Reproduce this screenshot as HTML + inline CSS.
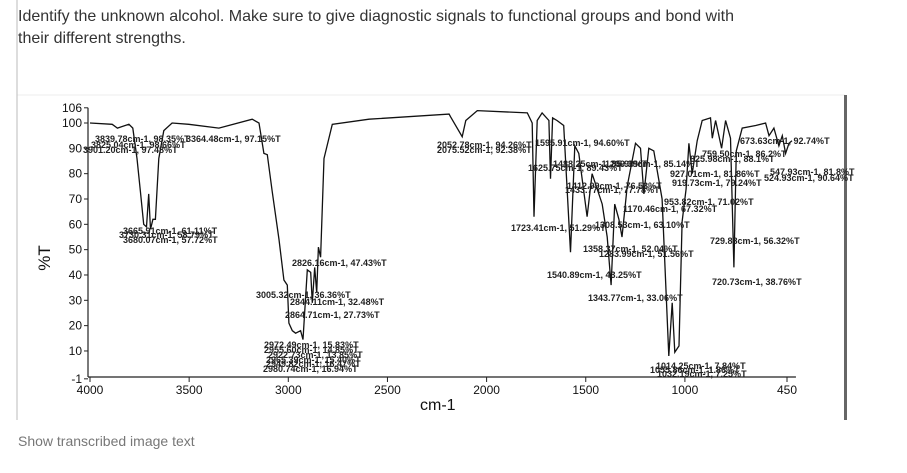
<!DOCTYPE html>
<html><head><meta charset="utf-8"><style>
body{margin:0;width:907px;height:473px;background:#fff;overflow:hidden;font-family:"Liberation Sans",Arial,sans-serif;}
.q{position:absolute;left:18px;color:#333;font-size:16px;line-height:22px;}
</style></head><body>
<div class="q" style="top:6px">Identify the unknown alcohol. Make sure to give diagnostic signals to functional groups and bond with<br>their different strengths.</div>
<div class="q" style="top:430px;font-size:14px;color:#777">Show transcribed image text</div>
<svg id="chart" width="907" height="473" style="position:absolute;left:0;top:0">
<line x1="17" y1="95" x2="845" y2="95" stroke="#eee"/>
<line x1="17" y1="0" x2="17" y2="420" stroke="#bbb"/>
<rect x="844" y="95" width="3" height="325" fill="#666"/>
<g id="axes"></g><g id="series"></g><g id="labels" font-size="9" font-weight="bold" fill="#222"></g>
<text x="420" y="410" font-size="16" fill="#111">cm-1</text>
<text transform="translate(50,258) rotate(-90)" font-size="17" text-anchor="middle" fill="#111">%T</text>
</svg>
<script>
const xTicks=[4000,3500,3000,2500,2000,1500,1000,450];
const yTicks=[106,100,90,80,70,60,50,40,30,20,10,-1];
const wavenumbers=[4000,3888,3862,3804,3784,3763,3746,3729,3715,3704,3695,3683,3670,3653,3628,3586,3502,3350,3182,3148,3123,3106,3081,3047,3022,3005,2997,2980,2963,2938,2926,2904,2887,2879,2867,2857,2848,2837,2820,2778,2593,2189,2182,2123,2105,2047,1795,1770,1761,1745,1720,1686,1678,1667,1645,1611,1577,1555,1535,1493,1468,1417,1392,1372,1354,1333,1317,1291,1249,1224,1207,1182,1157,1115,1081,1064,1051,1030,1014,994,980,963,938,913,871,862,845,815,795,770,753,741,711,643,593,576,551,526,509,492,475,460];
const transmittance=[100,99.5,98,99.5,98,86,73,60,59,72,58,62,62,86,97,100,99.5,98,101.5,100,88,87.5,73,54,38,36,21,18,17,18,14.5,42,41,29,43,33,51,47,86,99.5,101.5,103.5,102.5,94.6,101,104.9,104,100,63,101,104,101,78,102,101,99,49,91,88,63,80,68,55,36,68,62,55,75,92,90,72,90,89,70,8,29,9.5,12,61,74,92,80,93,101,102,94,101,90,101,94,43,89,98,99,100,95,98,91,95,88,92,93];
const xs=w=>90+(4000-w)*0.1983;
const ys=t=>376.3-t*2.533;
const NS='http://www.w3.org/2000/svg';
function mk(tag,attrs,parent,text){const e=document.createElementNS(NS,tag);for(const k in attrs)e.setAttribute(k,attrs[k]);if(text!==undefined)e.textContent=text;parent.appendChild(e);return e;}
const ax=document.getElementById('axes');
const yl=mk('line',{x1:88,y1:ys(106),x2:88,y2:377,stroke:'#222','stroke-width':1.2},ax);


const xl=mk('line',{x1:88,y1:377,x2:xs(440),y2:377,stroke:'#222','stroke-width':1.2},ax);


yTicks.forEach(v=>{
  const y=ys(v);
  const t=mk('line',{x1:84,y1:y,x2:88,y2:y,stroke:'#222'},ax);
  
  
  const l=mk('text',{x:82,y:y+4,'font-size':12,'text-anchor':'end',fill:'#111'},ax,String(v));
  
  
});
xTicks.forEach(v=>{
  const x=v===450?787:xs(v);
  const t=mk('line',{x1:x,y1:377,x2:x,y2:382,stroke:'#222'},ax);
  
  
  const l=mk('text',{x:x,y:394,'font-size':12,'text-anchor':'middle',fill:'#111'},ax,String(v));
  
  
});
const pts=wavenumbers.map((w,i)=>xs(w).toFixed(1)+','+ys(transmittance[i]).toFixed(1)).join(' ');
const pl=mk('polyline',{points:pts,fill:'none',stroke:'#111','stroke-width':1.3},document.getElementById('series'));


const peakLabels=["3839.78cm-1, 98.35%T","3364.48cm-1, 97.15%T","3825.04cm-1, 98.66%T","3901.20cm-1, 97.48%T","3665.91cm-1, 61.11%T","3730.31cm-1, 58.79%T","3680.07cm-1, 57.72%T","2826.16cm-1, 47.43%T","3005.32cm-1, 36.36%T","2844.11cm-1, 32.48%T","2864.71cm-1, 27.73%T","2972.49cm-1, 15.83%T","2955.60cm-1, 14.85%T","2922.73cm-1, 13.85%T","2965.39cm-1, 15.40%T","2949.82cm-1, 16.47%T","2980.74cm-1, 16.94%T","2052.78cm-1, 94.26%T","2075.52cm-1, 92.38%T","1595.91cm-1, 94.60%T","1625.75cm-1, 89.43%T","1488.25cm-1, 85.90%T","1209.39cm-1, 85.14%T","1723.41cm-1, 51.29%T","1412.99cm-1, 76.53%T","1433.77cm-1, 77.78%T","1170.46cm-1, 67.32%T","1308.53cm-1, 63.10%T","953.82cm-1, 71.02%T","927.01cm-1, 81.86%T","919.73cm-1, 79.24%T","825.98cm-1, 88.1%T","759.50cm-1, 86.2%T","673.63cm-1, 92.74%T","547.93cm-1, 81.8%T","524.93cm-1, 90.64%T","729.88cm-1, 56.32%T","720.73cm-1, 38.76%T","1540.89cm-1, 43.25%T","1358.37cm-1, 52.04%T","1283.99cm-1, 51.56%T","1343.77cm-1, 33.06%T","1014.25cm-1, 7.84%T","1055.86cm-1, 1.86%T","1032.19cm-1, 7.25%T"];
const labelPos=[[95,142],[186,142],[91,148],[83,153],[123,234],[119,238],[123,243],[292,266],[256,298],[290,305],[285,318],[264,348],[264,353],[268,358],[266,363],[266,367],[263,372],[437,148],[437,153],[535,146],[528,171],[553,167],[605,167],[511,231],[567,189],[565,193],[623,212],[595,228],[664,205],[670,177],[672,186],[690,162],[702,157],[740,144],[770,175],[764,181],[710,244],[712,285],[547,278],[583,252],[599,257],[588,301],[656,369],[650,373],[657,377]];
const lg=document.getElementById('labels');
peakLabels.forEach((s,i)=>{
  const t=mk('text',{x:labelPos[i][0],y:labelPos[i][1]},lg,s);
  
  
});
</script>
</body></html>
